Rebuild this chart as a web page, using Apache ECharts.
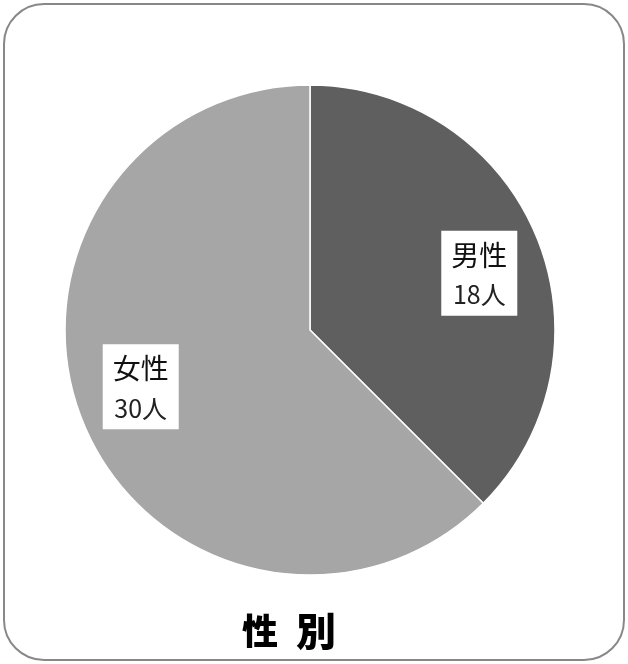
<!DOCTYPE html>
<html>
<head>
<meta charset="utf-8">
<style>
  html, body { margin: 0; padding: 0; background: #fff; }
  #chart { width: 628px; height: 664px; }
</style>
<script src="https://cdn.jsdelivr.net/npm/echarts@6/dist/echarts.min.js"></script>
</head>
<body>
<div id="chart"></div>
<script>
  // 性別 data
  const categories = ['男性', '女性'];
  const counts = [18, 30];
  const unit = '人';
  const titleChars = ['性', '別'];
  const sliceColors = ['#5f5f5f', '#a6a6a6'];

  const pieData = categories.map(function (name, i) {
    return { name: name, value: counts[i], itemStyle: { color: sliceColors[i] } };
  });

  const chart = echarts.init(document.getElementById('chart'));
  chart.setOption({
    backgroundColor: '#fff',
    animation: false,
    title: {
      text: '{a|' + titleChars[0] + '}{b|' + titleChars[1] + '}',
      left: 237,
      top: 606,
      textStyle: {
        rich: {
          a: { fontFamily: 'Noto Sans CJK JP', fontSize: 36, fontWeight: 900, color: '#000' },
          b: { fontFamily: 'Noto Sans CJK JP', fontSize: 40, fontWeight: 900, color: '#000', padding: [0, 0, 0, 18] }
        }
      }
    },
    graphic: [{
      type: 'rect',
      shape: { x: 4, y: 4, width: 620, height: 656, r: 40 },
      style: { fill: 'none', stroke: '#888', lineWidth: 2 },
      silent: true
    }],
    series: [
      {
        type: 'pie',
        center: [310, 330],
        radius: 245,
        startAngle: 90,
        clockwise: true,
        silent: true,
        itemStyle: { borderColor: '#fff', borderWidth: 1.5 },
        label: { show: false },
        labelLine: { show: false },
        data: pieData
      },
      {
        // transparent ring only to place the labels further out
        type: 'pie',
        center: [310, 330],
        radius: [106, 245],
        startAngle: 86,
        clockwise: true,
        silent: true,
        itemStyle: { color: 'rgba(0,0,0,0)', borderWidth: 0 },
        labelLine: { show: false },
        label: {
          show: true,
          position: 'inside',
          backgroundColor: '#fff',
          padding: [3, 10, 2, 10],
          fontFamily: 'Noto Sans CJK JP',
          color: '#111',
          formatter: function (p) {
            return '{a|' + p.name + '}\n{b|' + p.value + unit + '}';
          },
          rich: {
            a: { fontSize: 28, lineHeight: 42, fontFamily: 'Noto Sans CJK JP', color: '#111' },
            b: { fontSize: 25, lineHeight: 38, fontFamily: 'Noto Sans CJK JP', color: '#222' }
          }
        },
        data: categories.map(function (name, i) {
          return { name: name, value: counts[i] };
        })
      }
    ]
  });
</script>
</body>
</html>
